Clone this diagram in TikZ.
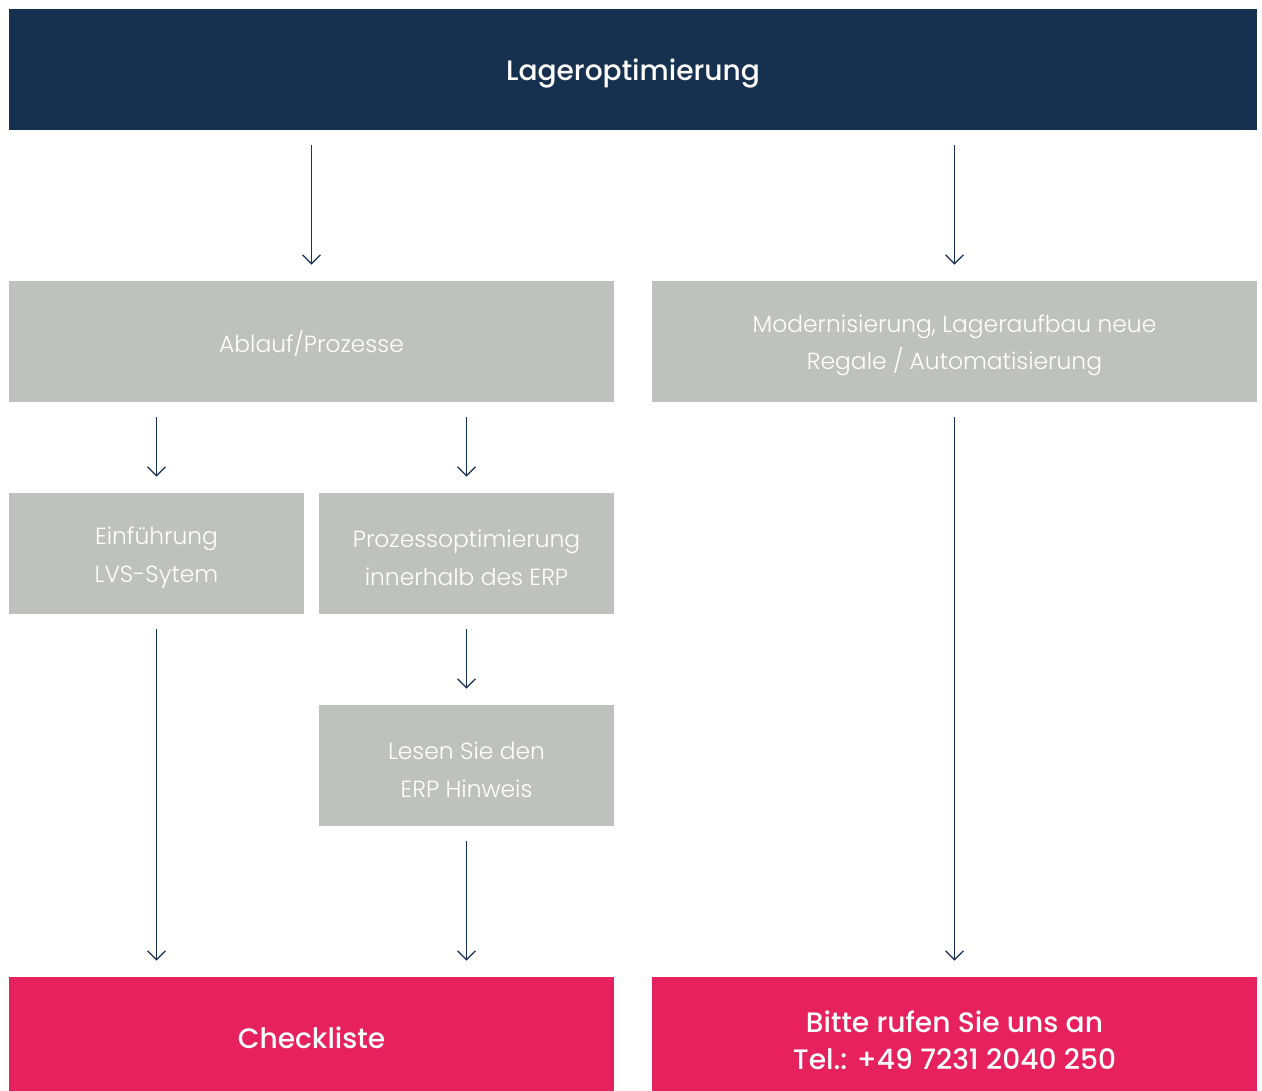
\documentclass[tikz,border=0pt]{standalone}
\usepackage{fontspec}
\setmainfont{Poppins}[BoldFont={Poppins Medium}]
\newfontfamily\thinfont{Poppins Light}
\usetikzlibrary{positioning,arrows.meta}

\definecolor{navy}{HTML}{16304F}
\definecolor{stone}{HTML}{BFC1BE}
\definecolor{signal}{HTML}{E6215D}

\tikzset{
  box/.style={fill=stone, text=white, align=center, inner sep=0pt,
    minimum height=2.42cm, text height=14.5pt,
    font=\thinfont\fontsize{13.3}{21.5}\selectfont},
  twoline/.style={text height=36pt},
  wide/.style={box, minimum width=12.1cm},
  half/.style={box, minimum width=5.9cm, twoline},
  head/.style={box, fill=navy, minimum width=24.96cm, text height=17pt,
    font=\fontsize{16}{20}\selectfont\bfseries},
  goal/.style={wide, fill=signal, minimum height=2.28cm, text height=17pt,
    font=\fontsize{16}{21}\selectfont\bfseries},
  flow/.style={draw=navy, line width=0.7pt,
    -{Straight Barb[length=0.18cm,width=0.36cm]},
    shorten <=0.3cm, shorten >=0.32cm}
}

\begin{document}
\begin{tikzpicture}[x=0.02cm,y=-0.02cm]
  \useasboundingbox (0,0) rectangle (1262,1091);

  \node[head] (lager) at (633,69.5) {Lageroptimierung};

  \node[wide] (ablauf) at (311.5,341.5) {Ablauf/Prozesse};
  \node[wide, twoline] (modern) at (954.5,341.5)
    {Modernisierung, Lageraufbau neue\\Regale / Automatisierung};

  \node[half] (lvs) at (156.5,553.5) {Einführung\\LVS-Sytem};
  \node[half] (erp) at (466.5,553.5) {Prozessoptimierung\\innerhalb des ERP};
  \node[half] (hinweis) at (466.5,765.5) {Lesen Sie den\\ERP Hinweis};

  \node[goal] (check) at (311.5,1034) {Checkliste};
  \node[goal, text height=40pt] (anruf) at (954.5,1034)
    {Bitte rufen Sie uns an\\Tel.: +49 7231 2040 250};

  % Pfeile
  \draw[flow] (lager.south -| ablauf) -- (ablauf.north);
  \draw[flow] (lager.south -| modern) -- (modern.north);
  \draw[flow] (ablauf.south -| lvs) -- (lvs.north);
  \draw[flow] (ablauf.south -| erp) -- (erp.north);
  \draw[flow] (lvs.south) -- (lvs.south |- check.north);
  \draw[flow] (erp.south) -- (hinweis.north);
  \draw[flow] (hinweis.south) -- (hinweis.south |- check.north);
  \draw[flow] (modern.south) -- (anruf.north);
\end{tikzpicture}
\end{document}
